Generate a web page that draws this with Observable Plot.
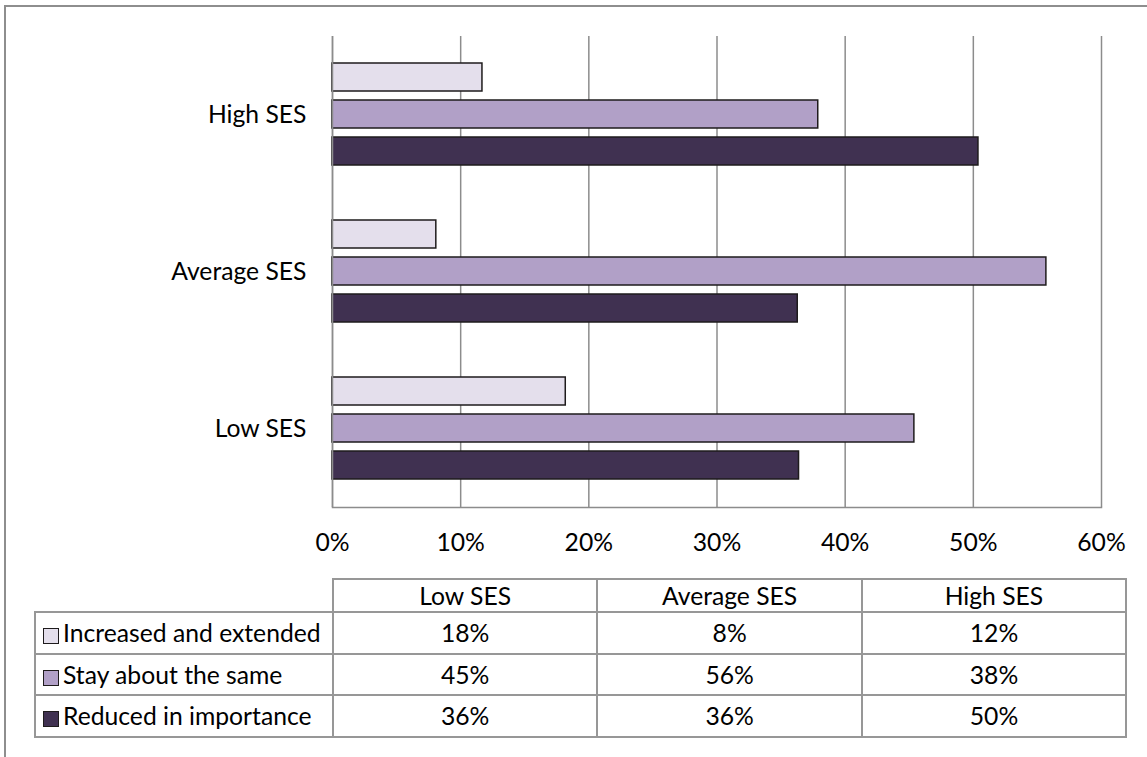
<!DOCTYPE html>
<html>
<head>
<meta charset="utf-8">
<script src="https://cdn.jsdelivr.net/npm/d3@7"></script>
<script src="https://cdn.jsdelivr.net/npm/@observablehq/plot@0.6"></script>
<style>
  html, body { margin: 0; padding: 0; background: #fff; }
  body { width: 1147px; height: 757px; overflow: hidden; position: relative; }
  #border { position: absolute; left: 4px; top: 5px; width: 1300px; height: 900px;
            border-top: 2px solid #8e8e8e; border-left: 2px solid #8e8e8e; }
  #chart { position: absolute; left: 0; top: 0; }
  #tbl { position: absolute; left: 34px; top: 578px; border-collapse: collapse; table-layout: fixed; color: #000; }
  #tbl td { border: 2px solid #979797; padding: 0; text-align: center; white-space: nowrap; overflow: hidden; }
  #tbl td.lab { text-align: left; padding-left: 7px; }
  #tbl td.blank { border-top: none; border-left: none; }
  .sw { display: inline-block; width: 14px; height: 14px; border: 1.5px solid #1e1b1c; margin-right: 4px; vertical-align: -2px; }
</style>
</head>
<body>
<div id="border"></div>
<div id="chart"></div>
<table id="tbl"></table>
<script>
// ---- data ----
const categories = ["Low SES", "Average SES", "High SES"];          // table column order
const categoryOrder = ["High SES", "Average SES", "Low SES"];      // top-to-bottom in chart
const series = ["Increased and extended", "Stay about the same", "Reduced in importance"];
const increased = [18.2, 8.1, 11.7];
const stay      = [45.4, 55.7, 37.9];
const reduced   = [36.4, 36.3, 50.4];
const seriesValues = [increased, stay, reduced];
const seriesColors = ["#E4DFEC", "#B1A0C7", "#403151"];
const xTicks = [0, 0.1, 0.2, 0.3, 0.4, 0.5, 0.6];

// ---- font sizing (match Calibri-like metrics with an installed font) ----
const FONT = "Lato, 'Open Sans', sans-serif";
const ctx = document.createElement("canvas").getContext("2d");
ctx.font = "100px " + FONT;
const F = Math.round(258 / ctx.measureText("Increased and extended").width * 1000) / 10;

const data = categories.flatMap((c, i) =>
  series.map((s, j) => ({category: c, series: s, value: seriesValues[j][i] / 100})));

const chart = Plot.plot({
  width: 1147,
  height: 560,
  marginLeft: 332,
  marginRight: 46,
  marginTop: 35,
  marginBottom: 52,
  style: {fontFamily: FONT, fontSize: F + "px", color: "#000", background: "transparent"},
  x: {domain: [0, 0.6], ticks: xTicks, tickFormat: d3.format(".0%"), tickSize: 0, tickPadding: 26, label: null},
  y: {domain: series, paddingInner: 0.235, paddingOuter: 0.71, axis: null},
  fy: {domain: categoryOrder, padding: 0, tickSize: 0, tickPadding: 26, label: null},
  color: {domain: series, range: seriesColors},
  marks: [
    Plot.gridX(xTicks, {stroke: "#8c8c8c", strokeOpacity: 1, strokeWidth: 1.5}),
    Plot.frame({anchor: "bottom", facetAnchor: "bottom", stroke: "#8c8c8c", strokeWidth: 1.5}),
    Plot.barX(data, {x: "value", y: "series", fy: "category", fill: "series", stroke: "#1e1b1c", strokeWidth: 1.5}),
    Plot.ruleX([0], {stroke: "#8c8c8c", strokeWidth: 1.5})
  ]
});
document.getElementById("chart").appendChild(chart);

// ---- data table below the chart ----
const tbl = document.getElementById("tbl");
tbl.style.fontFamily = FONT;
tbl.style.fontSize = F + "px";
const colgroup = document.createElement("colgroup");
[298, 264.3, 264.7, 264].forEach(w => {
  const col = document.createElement("col");
  col.style.width = w + "px";
  colgroup.appendChild(col);
});
tbl.appendChild(colgroup);
tbl.style.width = "1091px";

const head = document.createElement("tr");
head.style.height = "33px";
const blank = document.createElement("td");
blank.className = "blank";
head.appendChild(blank);
categories.forEach(c => {
  const td = document.createElement("td");
  td.textContent = c;
  head.appendChild(td);
});
tbl.appendChild(head);

series.forEach((s, j) => {
  const tr = document.createElement("tr");
  tr.style.height = "41.5px";
  const lab = document.createElement("td");
  lab.className = "lab";
  const sw = document.createElement("span");
  sw.className = "sw";
  sw.style.background = seriesColors[j];
  lab.appendChild(sw);
  lab.appendChild(document.createTextNode(s));
  tr.appendChild(lab);
  categories.forEach((c, i) => {
    const td = document.createElement("td");
    td.textContent = Math.round(seriesValues[j][i]) + "%";
    tr.appendChild(td);
  });
  tbl.appendChild(tr);
});
</script>
</body>
</html>
